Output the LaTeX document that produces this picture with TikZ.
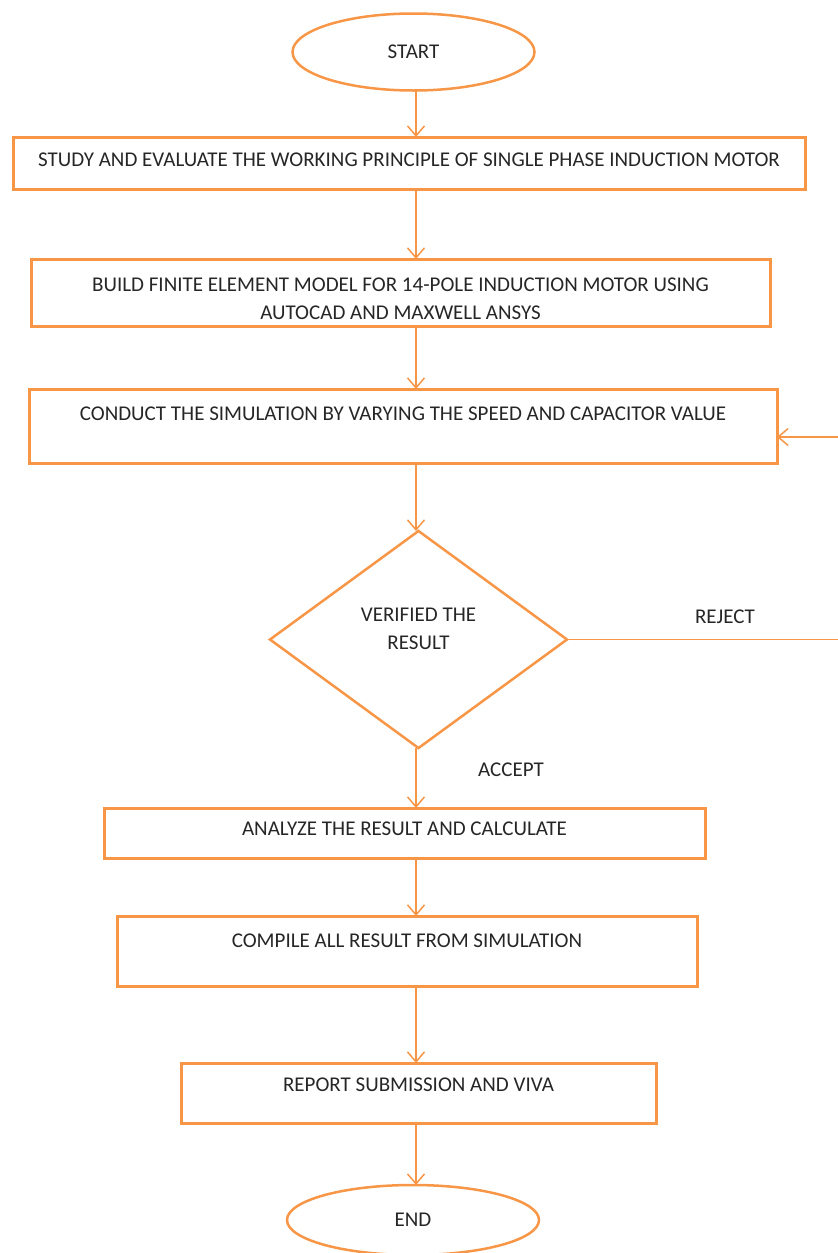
\documentclass[tikz,border=0pt]{standalone}
\usepackage{fontspec}
\setmainfont{Carlito}
\usetikzlibrary{shapes.geometric,arrows.meta}
\definecolor{ora}{HTML}{F79646}
\definecolor{txt}{HTML}{262626}
\begin{document}
\begin{tikzpicture}[x=1pt,y=-1pt,
  every node/.style={text=txt,font=\fontsize{21}{28}\selectfont},
  box/.style={draw=ora,line width=3pt,rectangle,inner xsep=0pt,inner ysep=0pt,outer sep=0pt},
  term/.style={draw=ora,line width=2.5pt,ellipse,inner sep=0pt,outer sep=0pt},
  decide/.style={draw=ora,line width=2.5pt,diamond,inner sep=0pt,outer sep=0pt,align=center},
  arr/.style={draw=ora,line width=1.5pt,-{Straight Barb[length=10pt,width=17pt,line width=1.5pt]}},
  lin/.style={draw=ora,line width=1.5pt},
  lbl/.style={inner sep=0pt}]
\useasboundingbox (0,0) rectangle (838,1253);
\coordinate (col) at (416,0);
\node[term,minimum width=242pt,minimum height=77pt] (start) at (413.5,52) {START};
\node[box,anchor=north,minimum width=792pt,text height=29.6pt,text depth=22.4pt] (b1) at (409,137) {STUDY AND EVALUATE THE WORKING PRINCIPLE OF SINGLE PHASE INDUCTION MOTOR};
\node[box,minimum width=739pt,minimum height=67pt,align=center,text height=54pt,text depth=0pt] (b2) at (400.5,292.5) {BUILD FINITE ELEMENT MODEL FOR 14-POLE INDUCTION MOTOR USING\\AUTOCAD AND MAXWELL ANSYS};
\node[box,anchor=north,minimum width=748pt,text height=31.6pt,text depth=42.4pt] (b3) at (403,389) {CONDUCT THE SIMULATION BY VARYING THE SPEED AND CAPACITOR VALUE};
\node[decide,minimum width=297pt,minimum height=217pt,text depth=22pt] (dec) at (418.5,639.5) {VERIFIED THE\\RESULT};
\node[box,anchor=north,minimum width=601pt,text height=27.6pt,text depth=22.4pt] (b4) at (404.5,808) {ANALYZE THE RESULT AND CALCULATE};
\node[box,anchor=north,minimum width=580pt,text height=31.6pt,text depth=38.4pt] (b5) at (407,916) {COMPILE ALL RESULT FROM SIMULATION};
\node[box,anchor=north,minimum width=475pt,text height=28.6pt,text depth=31.4pt] (b6) at (418.5,1063) {REPORT SUBMISSION AND VIVA};
\node[term,minimum width=252pt,minimum height=70pt] (end) at (413,1220) {END};
\node[lbl] (rej) at (725,617) {REJECT};
\node[lbl] (acc) at (511,770) {ACCEPT};
\coordinate (rc) at (839.5,437);
\draw[arr] (start.south -| col) -- (b1.north -| col);
\draw[arr] (b1.south -| col) -- (b2.north -| col);
\draw[arr] (b2.south -| col) -- (b3.north -| col);
\draw[arr] (b3.south -| col) -- (dec.north -| col);
\draw[arr] (dec.south -| col) -- (b4.north -| col);
\draw[arr] (b4.south -| col) -- (b5.north -| col);
\draw[arr] (b5.south -| col) -- (b6.north -| col);
\draw[arr] (b6.south -| col) -- (end.north -| col);
\draw[lin] (dec.east) -- (dec.east -| rc) -- (rc);
\draw[arr] (rc) -- (rc -| b3.east);
\end{tikzpicture}
\end{document}
